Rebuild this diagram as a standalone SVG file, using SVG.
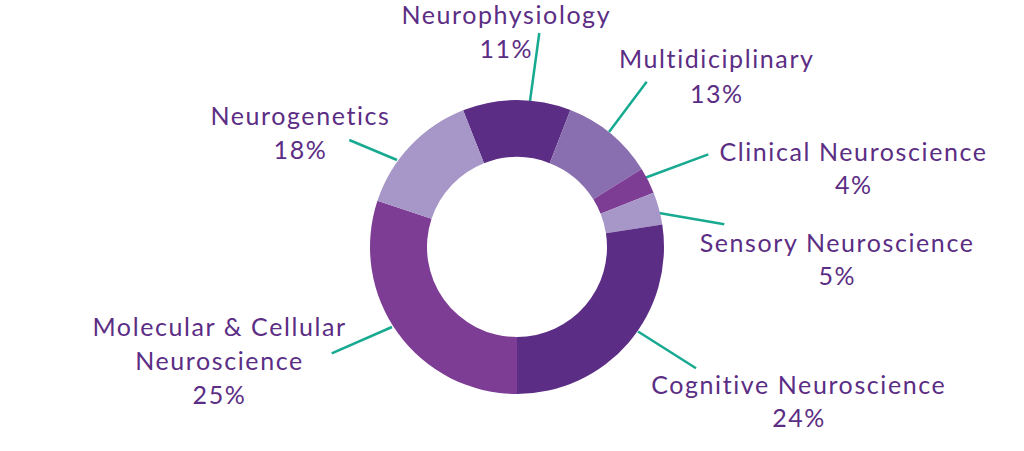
<svg xmlns="http://www.w3.org/2000/svg" width="1024" height="451" viewBox="0 0 1024 451">
<style>
.lbl{font-family:Lato,"Open Sans","Liberation Sans",sans-serif;font-size:25px;letter-spacing:1.6px;font-variant-ligatures:none;fill:#5B2D84;text-anchor:middle}
.lead{stroke:#17AA90;stroke-width:2.5;fill:none}
.dark{fill:#5B2D84}.mid{fill:#7E3D95}.lav{fill:#A796C8}.multi{fill:#8A6FB0}
</style>
<rect width="1024" height="451" fill="#ffffff"/>
<g id="connectors">
<line class="lead" x1="539.3" y1="33" x2="530" y2="101"/>
<line class="lead" x1="646.7" y1="81.7" x2="609" y2="132"/>
<line class="lead" x1="708.3" y1="154.3" x2="646" y2="177.5"/>
<line class="lead" x1="724.3" y1="224.3" x2="659" y2="213"/>
<line class="lead" x1="696" y1="368.3" x2="638" y2="331.5"/>
<line class="lead" x1="349.3" y1="140" x2="397" y2="160"/>
<line class="lead" x1="331.7" y1="353.3" x2="392" y2="327"/>
</g>
<g id="neurophysiology">
<path class="dark" d="M463.12,110.23 A147,147 0 0 1 570.40,110.04 L549.70,163.15 A90,90 0 0 0 484.01,163.26 Z"/>
<text class="lbl" x="506.3" y="24">Neurophysiology</text>
<text class="lbl" x="506.3" y="58.3">11%</text>
</g>
<g id="multidiciplinary">
<path class="multi" d="M570.40,110.04 A147,147 0 0 1 641.66,169.10 L593.32,199.31 A90,90 0 0 0 549.70,163.15 Z"/>
<text class="lbl" x="716.8" y="68.3">Multidiciplinary</text>
<text class="lbl" x="716.8" y="103.3">13%</text>
</g>
<g id="clinical">
<path class="mid" d="M641.66,169.10 A147,147 0 0 1 653.58,192.65 L600.62,213.73 A90,90 0 0 0 593.32,199.31 Z"/>
<text class="lbl" x="853.5" y="160.7">Clinical Neuroscience</text>
<text class="lbl" x="853.8" y="194">4%</text>
</g>
<g id="sensory">
<path class="lav" d="M653.58,192.65 A147,147 0 0 1 662.27,224.51 L605.94,233.23 A90,90 0 0 0 600.62,213.73 Z"/>
<text class="lbl" x="837.1" y="251.7">Sensory Neuroscience</text>
<text class="lbl" x="837.3" y="285">5%</text>
</g>
<g id="cognitive">
<path class="dark" d="M662.27,224.51 A147,147 0 0 1 517,394 L517,337 A90,90 0 0 0 605.94,233.23 Z"/>
<text class="lbl" x="798.8" y="394">Cognitive Neuroscience</text>
<text class="lbl" x="799.1" y="427.3">24%</text>
</g>
<g id="molecular">
<path class="mid" d="M517,394 A147,147 0 0 1 377.44,200.84 L431.55,218.74 A90,90 0 0 0 517,337 Z"/>
<text class="lbl" x="219.6" y="336">Molecular &amp; Cellular</text>
<text class="lbl" x="219.5" y="370">Neuroscience</text>
<text class="lbl" x="219.5" y="404">25%</text>
</g>
<g id="neurogenetics">
<path class="lav" d="M377.44,200.84 A147,147 0 0 1 463.12,110.23 L484.01,163.26 A90,90 0 0 0 431.55,218.74 Z"/>
<text class="lbl" x="300.5" y="125">Neurogenetics</text>
<text class="lbl" x="300.5" y="159.3">18%</text>
</g>
</svg>
